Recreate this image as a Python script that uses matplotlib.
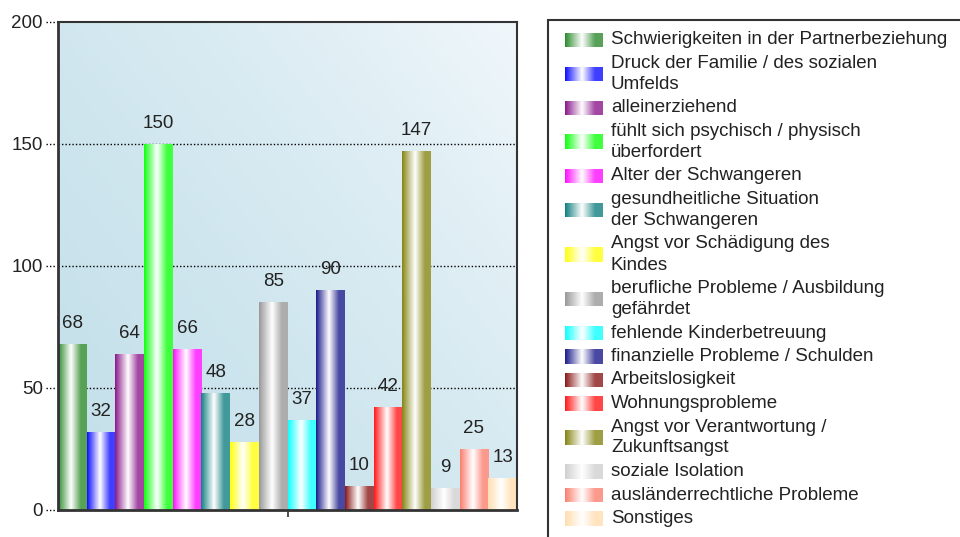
import numpy as np
import matplotlib
matplotlib.use("Agg")
import matplotlib.pyplot as plt
from matplotlib.colors import to_rgb
from matplotlib.patches import Rectangle

plt.rcParams['font.family'] = ['Liberation Sans', 'DejaVu Sans']

# data
categories = [
    "Schwierigkeiten in der Partnerbeziehung",
    "Druck der Familie / des sozialen\nUmfelds",
    "alleinerziehend",
    "fühlt sich psychisch / physisch\nüberfordert",
    "Alter der Schwangeren",
    "gesundheitliche Situation\nder Schwangeren",
    "Angst vor Schädigung des\nKindes",
    "berufliche Probleme / Ausbildung\ngefährdet",
    "fehlende Kinderbetreuung",
    "finanzielle Probleme / Schulden",
    "Arbeitslosigkeit",
    "Wohnungsprobleme",
    "Angst vor Verantwortung /\nZukunftsangst",
    "soziale Isolation",
    "ausländerrechtliche Probleme",
    "Sonstiges",
]
values = [68, 32, 64, 150, 66, 48, 28, 85, 37, 90, 10, 42, 147, 9, 25, 13]
colors = ["#2e8b2e", "#1010ff", "#8b1a8b", "#10ff10", "#ff10ff", "#138080",
          "#ffff10", "#999999", "#10ffff", "#1c1c8c", "#8b1a1a", "#ff1a1a",
          "#868616", "#d0d0d0", "#fa8070", "#ffdeb0"]
yticks = [0, 50, 100, 150, 200]


def gradient(color, n=64):
    # cylinder look: color -> white -> lighter color
    c = np.array(to_rgb(color))
    w = np.ones(3)
    right = c * 0.8 + w * 0.2
    t = np.linspace(0, 1, n)
    out = np.zeros((1, n, 3))
    for i, x in enumerate(t):
        if x < 0.45:
            f = x / 0.45
            out[0, i] = c * (1 - f) + w * f
        else:
            f = (x - 0.45) / 0.55
            out[0, i] = w * (1 - min(1, f * 1.6)) + right * min(1, f * 1.6)
    return out


fig = plt.figure(figsize=(9.6, 5.37), dpi=100)
ax = fig.add_axes([58 / 960, 27 / 537, 459 / 960, 488.5 / 537])

x = np.arange(len(values))
ax.set_xlim(-0.5, len(values) - 0.5)
ax.set_ylim(0, 200)

# background gradient
gx, gy = np.meshgrid(np.linspace(0, 1, 200), np.linspace(0, 1, 200))
t = np.clip(0.55 * gx + 0.45 * gy, 0, 1) ** 1.5
dark = np.array([196, 224, 234]) / 255
light = np.array([240, 247, 251]) / 255
bg = dark[None, None, :] * (1 - t[..., None]) + light[None, None, :] * t[..., None]
ax.imshow(bg, extent=[0, 1, 0, 1], transform=ax.transAxes, origin='lower',
          aspect='auto', zorder=0)

for yv in yticks[1:-1]:
    ax.axhline(yv, color='black', linestyle=(0, (1, 1.5)), linewidth=1.0, zorder=1)

bars = ax.bar(x, values, width=1.0, color='none', edgecolor='none', zorder=2)
for b, col, v in zip(bars, colors, values):
    im = ax.imshow(gradient(col), extent=[b.get_x(), b.get_x() + b.get_width(), 0, v],
                   aspect='auto', zorder=2, interpolation='bilinear')
    im.set_clip_path(b)
    ax.annotate(str(v), (b.get_x() + b.get_width() / 2, v), xytext=(0, 11.5),
                textcoords='offset points', ha='center', va='baseline',
                fontsize=13.5, color='#222222', zorder=3)

ax.set_xlim(-0.5, len(values) - 0.5)
ax.set_ylim(0, 200)

for s in ax.spines.values():
    s.set_color('#333333')
    s.set_linewidth(1.5)
    s.set_zorder(5)
ax.spines['left'].set_linewidth(2)
ax.spines['bottom'].set_linewidth(2)

ax.set_xticks([(len(values) - 1) / 2])
ax.set_xticklabels([""])
ax.tick_params(axis='x', direction='out', length=5, width=1.2, color='#333333')
ax.set_yticks(yticks)
ax.set_yticklabels([str(v) for v in yticks], fontsize=13.5, color='#222222')
ax.tick_params(axis='y', length=0, pad=11)
for yv in yticks:
    ax.plot([-0.026, -0.004], [yv, yv], transform=ax.get_yaxis_transform(),
            color='black', linestyle=(0, (1, 1.5)), linewidth=1.0, clip_on=False)

# legend drawn by hand
fig.patches.append(Rectangle((548 / 960, -0.1), 0.6, (537 - 20) / 537 + 0.1,
                             transform=fig.transFigure, facecolor='white',
                             edgecolor='#333333', linewidth=1.5, zorder=-5))
y = 40.0
for lab, col in zip(categories, colors):
    nlines = lab.count("\n") + 1
    first = y
    for k, line in enumerate(lab.split("\n")):
        fig.text(611 / 960, 1 - (first + 21 * k) / 537, line, fontsize=13.5,
                 color='#222222', va='center', ha='left')
    mid = first + 21 * (nlines - 1) / 2
    lax = fig.add_axes([565 / 960, 1 - (mid + 7.5) / 537, 38 / 960, 15 / 537])
    lax.set_zorder(3)
    lax.imshow(gradient(col), aspect='auto', interpolation='bilinear')
    lax.axis('off')
    y = first + 21 * (nlines - 1) + 23.5

fig.savefig("out.png", dpi=100)
